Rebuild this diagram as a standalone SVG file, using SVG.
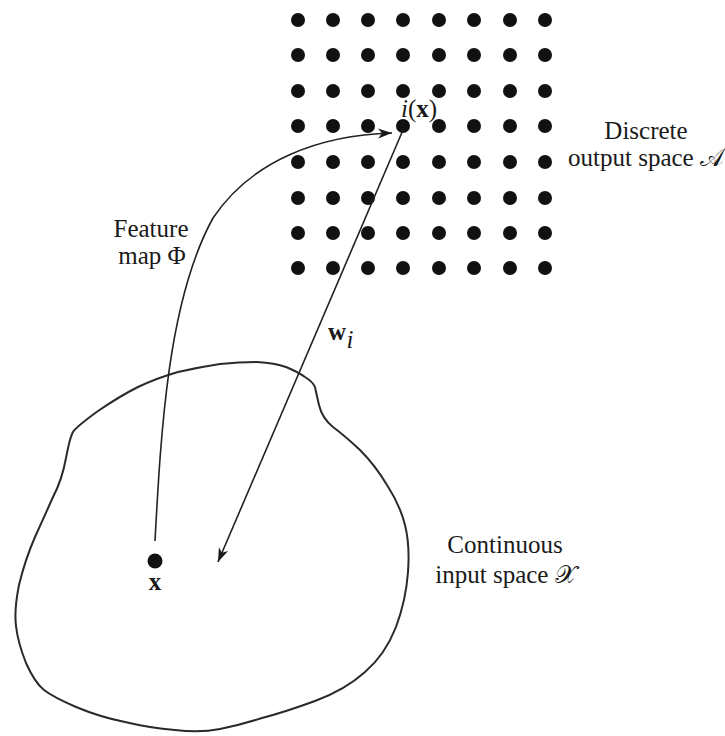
<svg xmlns="http://www.w3.org/2000/svg" width="725" height="736" viewBox="0 0 725 736">
<style>
  .lbl { font-family: "Liberation Serif", "Times New Roman", serif; font-size: 25px; fill: #1a1a1a; text-anchor: middle; }
  .dot { fill: #111; }
  .dot circle { r: 7px; }
  .edge { fill: none; stroke: #222; stroke-width: 1.6; }
  .outline { fill: none; stroke: #2a2a2a; stroke-width: 2; stroke-linejoin: round; }
</style>
<defs>
  <marker id="arrow" markerUnits="userSpaceOnUse" markerWidth="16" markerHeight="12" viewBox="-15 -6 16 12" refX="0" refY="0" orient="auto">
    <path d="M0,0 L-14,-5 L-10,0 L-14,5 Z" fill="#1a1a1a"/>
  </marker>
</defs>
<rect width="725" height="736" fill="#fff"/>

<g id="output-space">
  <g class="dot">
    <circle cx="298" cy="20" r="7"/><circle cx="333" cy="20" r="7"/><circle cx="368" cy="20" r="7"/><circle cx="403" cy="20" r="7"/><circle cx="439" cy="20" r="7"/><circle cx="474" cy="20" r="7"/><circle cx="510" cy="20" r="7"/><circle cx="545" cy="20" r="7"/>
    <circle cx="298" cy="55" r="7"/><circle cx="333" cy="55" r="7"/><circle cx="368" cy="55" r="7"/><circle cx="403" cy="55" r="7"/><circle cx="439" cy="55" r="7"/><circle cx="474" cy="55" r="7"/><circle cx="510" cy="55" r="7"/><circle cx="545" cy="55" r="7"/>
    <circle cx="298" cy="91" r="7"/><circle cx="333" cy="91" r="7"/><circle cx="368" cy="91" r="7"/><circle cx="403" cy="91" r="7"/><circle cx="439" cy="91" r="7"/><circle cx="474" cy="91" r="7"/><circle cx="510" cy="91" r="7"/><circle cx="545" cy="91" r="7"/>
    <circle cx="298" cy="126" r="7"/><circle cx="333" cy="126" r="7"/><circle cx="368" cy="126" r="7"/><circle cx="403" cy="126" r="7"/><circle cx="439" cy="126" r="7"/><circle cx="474" cy="126" r="7"/><circle cx="510" cy="126" r="7"/><circle cx="545" cy="126" r="7"/>
    <circle cx="298" cy="162" r="7"/><circle cx="333" cy="162" r="7"/><circle cx="368" cy="162" r="7"/><circle cx="403" cy="162" r="7"/><circle cx="439" cy="162" r="7"/><circle cx="474" cy="162" r="7"/><circle cx="510" cy="162" r="7"/><circle cx="545" cy="162" r="7"/>
    <circle cx="298" cy="198" r="7"/><circle cx="333" cy="198" r="7"/><circle cx="368" cy="198" r="7"/><circle cx="403" cy="198" r="7"/><circle cx="439" cy="198" r="7"/><circle cx="474" cy="198" r="7"/><circle cx="510" cy="198" r="7"/><circle cx="545" cy="198" r="7"/>
    <circle cx="298" cy="233" r="7"/><circle cx="333" cy="233" r="7"/><circle cx="368" cy="233" r="7"/><circle cx="403" cy="233" r="7"/><circle cx="439" cy="233" r="7"/><circle cx="474" cy="233" r="7"/><circle cx="510" cy="233" r="7"/><circle cx="545" cy="233" r="7"/>
    <circle cx="298" cy="268" r="7"/><circle cx="333" cy="268" r="7"/><circle cx="368" cy="268" r="7"/><circle cx="403" cy="268" r="7"/><circle cx="439" cy="268" r="7"/><circle cx="474" cy="268" r="7"/><circle cx="510" cy="268" r="7"/><circle cx="545" cy="268" r="7"/>
  </g>
  <text class="lbl" x="646" y="139">Discrete</text>
  <text class="lbl" x="646" y="166">output space 𝒜</text>
</g>

<g id="winner-label">
  <text class="lbl" x="419" y="117"><tspan font-style="italic">i</tspan><tspan>(</tspan><tspan font-weight="bold">x</tspan><tspan>)</tspan></text>
</g>

<g id="input-space">
  <path class="outline" d="M138,387 Q157,378 178,372 Q200,367 220,364 Q240,362 257,362 Q275,363 286,367 Q298,372 305,377 Q313,382 315,387 Q316,392 319,405 Q322,418 333,427 Q345,436 360,450 Q375,465 387,485 Q400,505 405,525 Q410,545 408,572 Q406,600 396,627 Q385,655 365,672 Q345,690 315,701 Q285,712 262,718 Q240,725 220,729 Q200,733 175,730 Q150,728 125,722 Q100,717 76,707 Q53,697 44,690 Q35,683 26,663 Q18,643 16,626 Q14,610 19,585 Q25,560 35,537 Q45,515 53,497 Q62,480 66,458 Q70,437 73,432 Q76,427 98,411 Q120,396 138,387 Z"/>
  <text class="lbl" x="505" y="553">Continuous</text>
  <text class="lbl" x="506" y="583">input space 𝒳</text>
</g>

<g id="input-x">
  <circle class="dot" cx="155" cy="561" r="7.5"/>
  <text class="lbl" x="155" y="590" font-weight="bold" font-size="23">x</text>
</g>

<g id="feature-map-label">
  <text class="lbl" x="151" y="237">Feature</text>
  <text class="lbl" x="152" y="264">map Φ</text>
</g>

<g id="weight-label">
  <text class="lbl" x="337" y="340" font-weight="bold" font-size="23">w</text>
  <text class="lbl" x="350" y="348" font-style="italic" font-size="17">i</text>
</g>

<g id="connectors">
  <path class="edge" d="M155,541 C161,430 168,300 213,218 C252,160 320,135 392,133" marker-end="url(#arrow)"/>
  <path class="edge" d="M403,130 L218,562" marker-end="url(#arrow)"/>
</g>
</svg>
